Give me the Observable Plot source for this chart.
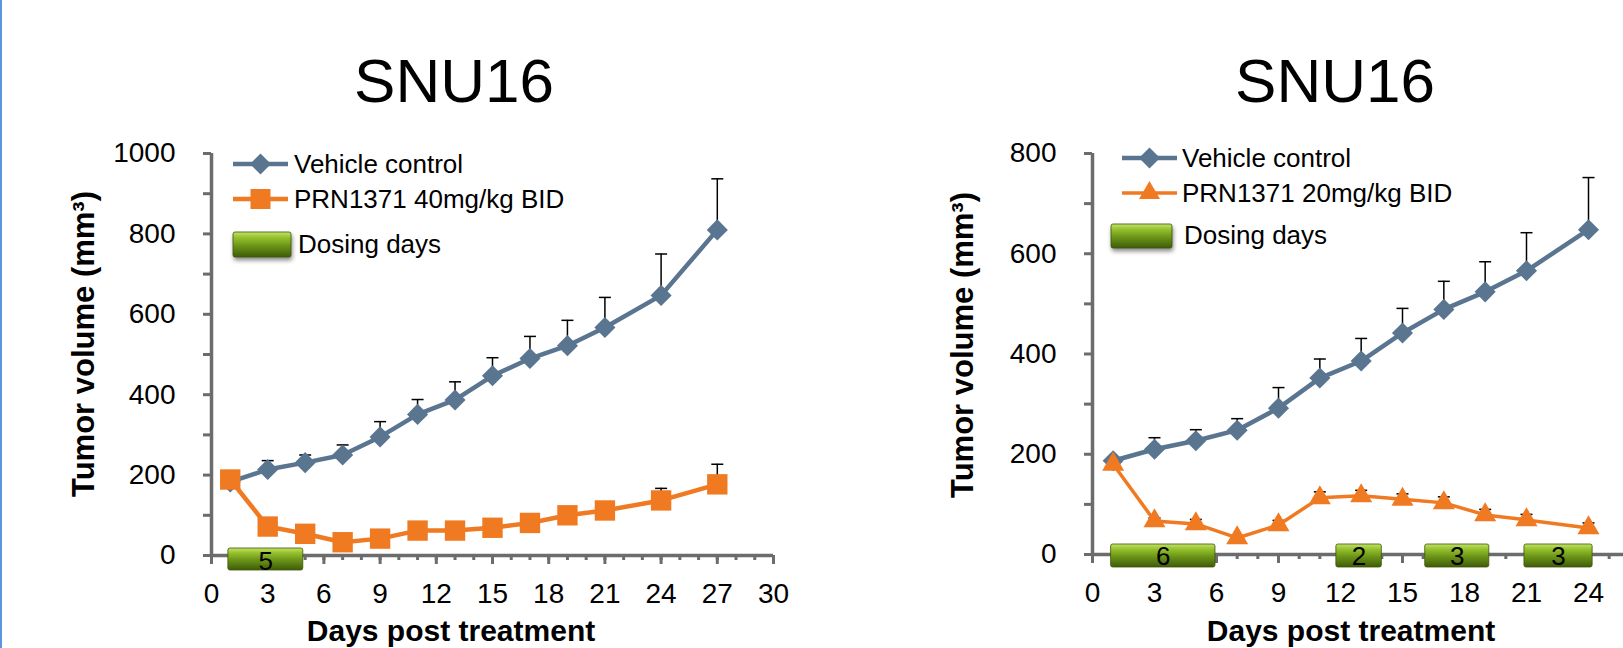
<!DOCTYPE html>
<html>
<head>
<meta charset="utf-8">
<script src="https://cdn.jsdelivr.net/npm/d3@7"></script>
<script src="https://cdn.jsdelivr.net/npm/@observablehq/plot@0.6"></script>
<style>
  html, body { margin: 0; padding: 0; background: #fff; }
  body { width: 1623px; height: 648px; overflow: hidden; position: relative;
         font-family: "Liberation Sans", Arial, sans-serif; }
  .chart { position: absolute; top: 0; }
  .chart svg { max-width: none !important; }
  #border { position: absolute; left: 0; top: 0; width: 2px; height: 648px; background: #5b95dd; }
  #overlay { position: absolute; left: 0; top: 0; pointer-events: none; }
  g[aria-label="dosing"] rect { filter: drop-shadow(1px 3px 2px rgba(0,0,0,0.45)); }
</style>
</head>
<body>
<div id="border"></div>
<div id="left" class="chart" style="left:0px; width:800px"></div>
<div id="right" class="chart" style="left:880px; width:900px"></div>
<svg id="overlay" width="1623" height="648"></svg>
<script>
// ---------- data ----------
const daysLeft = [1, 3, 5, 7, 9, 11, 13, 15, 17, 19, 21, 24, 27];
const vehicleLeft = [183, 214, 231, 250, 295, 351, 387, 447, 490, 522, 567, 647, 810];
const vehicleLeftUpper = [190, 236, 250, 275, 333, 388, 432, 492, 545, 585, 642, 750, 937];
const prn40 = [189, 72, 54, 33, 42, 62, 62, 69, 81, 100, 112, 137, 177];
const prn40Upper = [192, 78, 60, 39, 48, 68, 68, 75, 87, 106, 118, 167, 227];

const daysRight = [1, 3, 5, 7, 9, 11, 13, 15, 17, 19, 21, 24];
const vehicleRight = [187, 210, 227, 248, 292, 352, 386, 442, 489, 524, 566, 648];
const vehicleRightUpper = [190, 233, 249, 271, 333, 390, 431, 491, 545, 584, 642, 752];
const prn20 = [180, 67, 61, 33, 59, 113, 117, 110, 103, 79, 69, 53];
const prn20Upper = [183, 73, 70, 36, 68, 125, 128, 121, 115, 90, 80, 63];

const dosingLeftStart = [0.9];
const dosingLeftEnd = [4.9];
const dosingLeftLabel = ["5"];
const dosingRightStart = [0.9, 11.8, 16.1, 20.9];
const dosingRightEnd = [5.95, 14.0, 19.2, 24.2];
const dosingRightLabel = ["6", "2", "3", "3"];

const xMajorLeft = [0, 3, 6, 9, 12, 15, 18, 21, 24, 27, 30];
const xMajorRight = [0, 3, 6, 9, 12, 15, 18, 21, 24];
const xMinorTicks = d3.range(0, 31);
const yMajorLeft = [0, 200, 400, 600, 800, 1000];
const yMinorLeft = [100, 300, 500, 700, 900];
const yMajorRight = [0, 200, 400, 600, 800];
const yMinorRight = [100, 300, 500, 700];

const titleText = "SNU16";
const yTitle = "Tumor volume (mm³)";
const xTitle = "Days post treatment";
const legendLeft = ["Vehicle control", "PRN1371 40mg/kg BID", "Dosing days"];
const legendRight = ["Vehicle control", "PRN1371 20mg/kg BID", "Dosing days"];

// ---------- style ----------
const axisGray = "#6c6c6c";
const vehicleColor = "#5a7590";
const orangeColor = "#f07a22";
const fontFamily = '"Liberation Sans", Arial, sans-serif';

const capSymbol = {
  draw(ctx, size) {
    const r = Math.sqrt(size / Math.PI);
    ctx.moveTo(-r, 0);
    ctx.lineTo(r, 0);
  }
};

function gradientDefs(id) {
  return `<defs><linearGradient id="${id}" x1="0" y1="0" x2="0" y2="1">
    <stop offset="0" stop-color="#c3e268"/>
    <stop offset="0.22" stop-color="#96c22e"/>
    <stop offset="0.55" stop-color="#6b9418"/>
    <stop offset="1" stop-color="#3f5c08"/>
  </linearGradient></defs>`;
}

function chart(cfg) {
  const vData = cfg.days.map((d, i) => ({day: d, value: cfg.vehicle[i], upper: cfg.vehicleUpper[i]}));
  const pData = cfg.days.map((d, i) => ({day: d, value: cfg.prn[i], upper: cfg.prnUpper[i]}));
  const dData = cfg.dStart.map((s, i) => ({start: s, end: cfg.dEnd[i], mid: (s + cfg.dEnd[i]) / 2, label: cfg.dLabel[i]}));
  const svg = Plot.plot({
    width: cfg.width,
    height: 648,
    marginLeft: cfg.marginLeft,
    marginRight: cfg.marginRight,
    marginTop: cfg.marginTop,
    marginBottom: cfg.marginBottom,
    x: {domain: [0, 30], label: null},
    y: {domain: [0, cfg.yMax], label: null},
    style: {background: "transparent", overflow: "visible", fontFamily, color: "black", maxWidth: "none"},
    marks: [
      Plot.axisY(cfg.yMinor, {tickSize: 8, tickFormat: () => "", stroke: axisGray, strokeWidth: 3, label: null}),
      Plot.axisY(cfg.yMajor, {tickSize: 8, tickPadding: 28, fontSize: 28, tickFormat: d => String(d), stroke: axisGray, strokeWidth: 3, fill: "black", label: null}),
      Plot.axisX(xMinorTicks, {tickSize: 5, tickFormat: () => "", stroke: axisGray, strokeWidth: 3, label: null}),
      Plot.axisX(cfg.xMajor, {tickSize: 9, tickPadding: 19, fontSize: 28, tickFormat: d => String(d), stroke: axisGray, strokeWidth: 3, fill: "black", label: null}),
      Plot.ruleY([0], {stroke: axisGray, strokeWidth: 3.5}),
      Plot.ruleX([0], {y1: 0, y2: cfg.yMax, stroke: axisGray, strokeWidth: 3.5}),
      // vehicle
      Plot.ruleX(vData, {x: "day", y1: "value", y2: "upper", stroke: "black", strokeWidth: 1.5}),
      Plot.dot(vData, {x: "day", y: "upper", symbol: capSymbol, r: 6, stroke: "black", strokeWidth: 1.5, fill: "none"}),
      Plot.line(vData, {x: "day", y: "value", stroke: vehicleColor, strokeWidth: 4.5}),
      Plot.dot(vData, {x: "day", y: "value", symbol: "diamond2", r: 9.5, fill: vehicleColor, stroke: "none"}),
      // treatment
      Plot.ruleX(pData, {x: "day", y1: "value", y2: "upper", stroke: "black", strokeWidth: 1.5}),
      Plot.dot(pData, {x: "day", y: "upper", symbol: capSymbol, r: 6, stroke: "black", strokeWidth: 1.5, fill: "none"}),
      Plot.line(pData, {x: "day", y: "value", stroke: orangeColor, strokeWidth: cfg.prnWidth}),
      Plot.dot(pData, {x: "day", y: "value", symbol: cfg.prnSymbol, r: cfg.prnR, fill: orangeColor, stroke: "none"}),
      // dosing bars
      Plot.rect(dData, {x1: "start", x2: "end", y1: 0, y2: 0, insetTop: -cfg.barTop, insetBottom: -cfg.barBottom,
        fill: `url(#${cfg.gradId})`, stroke: "#3d5508", strokeWidth: 0.8, rx: 2, ariaLabel: "dosing"}),
      Plot.text(dData, {x: "mid", y: 0, text: "label", fontSize: 26, dy: cfg.labelDy, fill: "black"})
    ]
  });
  svg.insertAdjacentHTML("afterbegin", gradientDefs(cfg.gradId));
  return svg;
}

document.getElementById("left").append(chart({
  days: daysLeft, vehicle: vehicleLeft, vehicleUpper: vehicleLeftUpper,
  prn: prn40, prnUpper: prn40Upper, prnSymbol: "square", prnR: 11.5, prnWidth: 4.5,
  dStart: dosingLeftStart, dEnd: dosingLeftEnd, dLabel: dosingLeftLabel,
  yMax: 1000, yMajor: yMajorLeft, yMinor: yMinorLeft, xMajor: xMajorLeft,
  width: 800, marginLeft: 211, marginRight: 27, marginTop: 153, marginBottom: 93,
  barTop: 7, barBottom: 15, labelDy: 6, gradId: "gradL"
}));

document.getElementById("right").append(chart({
  days: daysRight, vehicle: vehicleRight, vehicleUpper: vehicleRightUpper,
  prn: prn20, prnUpper: prn20Upper, prnSymbol: "triangle2", prnR: 10.5, prnWidth: 3.5,
  dStart: dosingRightStart, dEnd: dosingRightEnd, dLabel: dosingRightLabel,
  yMax: 800, yMajor: yMajorRight, yMinor: yMinorRight, xMajor: xMajorRight,
  width: 900, marginLeft: 212, marginRight: 68, marginTop: 153, marginBottom: 94,
  barTop: 10, barBottom: 13, labelDy: 2, gradId: "gradR"
}));

// ---------- titles, axis titles, legends ----------
const ov = document.getElementById("overlay");
const NS = "http://www.w3.org/2000/svg";
function el(tag, attrs, text) {
  const e = document.createElementNS(NS, tag);
  for (const k in attrs) e.setAttribute(k, attrs[k]);
  if (text != null) e.textContent = text;
  ov.appendChild(e);
  return e;
}
function txt(x, y, s, size, opts = {}) {
  return el("text", Object.assign({x, y, "font-size": size, "font-family": fontFamily, fill: "black"}, opts), s);
}
ov.insertAdjacentHTML("afterbegin", gradientDefs("gradLegend"));

// titles
txt(454, 102, titleText, 62, {"text-anchor": "middle"});
txt(1335, 102, titleText, 62, {"text-anchor": "middle"});
// y titles
txt(0, 0, yTitle, 31, {"text-anchor": "middle", "font-weight": "bold", transform: "translate(94,344) rotate(-90)"});
txt(0, 0, yTitle, 31, {"text-anchor": "middle", "font-weight": "bold", transform: "translate(973,345) rotate(-90)"});
// x titles
txt(451, 641, xTitle, 30, {"text-anchor": "middle", "font-weight": "bold"});
txt(1351, 641, xTitle, 30, {"text-anchor": "middle", "font-weight": "bold"});

function diamond(cx, cy, h, fill) {
  el("polygon", {points: `${cx},${cy - h} ${cx + h},${cy} ${cx},${cy + h} ${cx - h},${cy}`, fill});
}
function legend(cfg) {
  // row 1
  el("line", {x1: cfg.lx1, x2: cfg.lx2, y1: cfg.r1, y2: cfg.r1, stroke: vehicleColor, "stroke-width": 4.5});
  diamond((cfg.lx1 + cfg.lx2) / 2, cfg.r1, 10.5, vehicleColor);
  txt(cfg.tx, cfg.r1 + 9, cfg.labels[0], 26);
  // row 2
  el("line", {x1: cfg.lx1, x2: cfg.lx2, y1: cfg.r2, y2: cfg.r2, stroke: orangeColor, "stroke-width": cfg.oWidth});
  const mx = (cfg.lx1 + cfg.lx2) / 2;
  if (cfg.square) {
    el("rect", {x: mx - 10, y: cfg.r2 - 10, width: 20, height: 20, fill: orangeColor});
  } else {
    el("polygon", {points: `${mx},${cfg.r2 - 12} ${mx + 10.5},${cfg.r2 + 6} ${mx - 10.5},${cfg.r2 + 6}`, fill: orangeColor});
  }
  txt(cfg.tx, cfg.r2 + 9, cfg.labels[1], 26);
  // row 3
  el("rect", {x: cfg.gx, y: cfg.gy, width: cfg.gw, height: cfg.gh, rx: 2, fill: "url(#gradLegend)", stroke: "#3d5508",
    "stroke-width": 0.8, style: "filter: drop-shadow(1px 3px 2px rgba(0,0,0,0.45))"});
  txt(cfg.tx3, cfg.b3, cfg.labels[2], 26);
}
legend({lx1: 233, lx2: 288, r1: 164, r2: 199, tx: 294, oWidth: 4.5, square: true,
  gx: 233, gy: 232, gw: 58, gh: 25, tx3: 298, b3: 253, labels: legendLeft});
legend({lx1: 1122, lx2: 1177, r1: 158, r2: 193, tx: 1182, oWidth: 3.5, square: false,
  gx: 1111, gy: 224, gw: 61, gh: 24, tx3: 1184, b3: 244, labels: legendRight});
</script>
</body>
</html>
